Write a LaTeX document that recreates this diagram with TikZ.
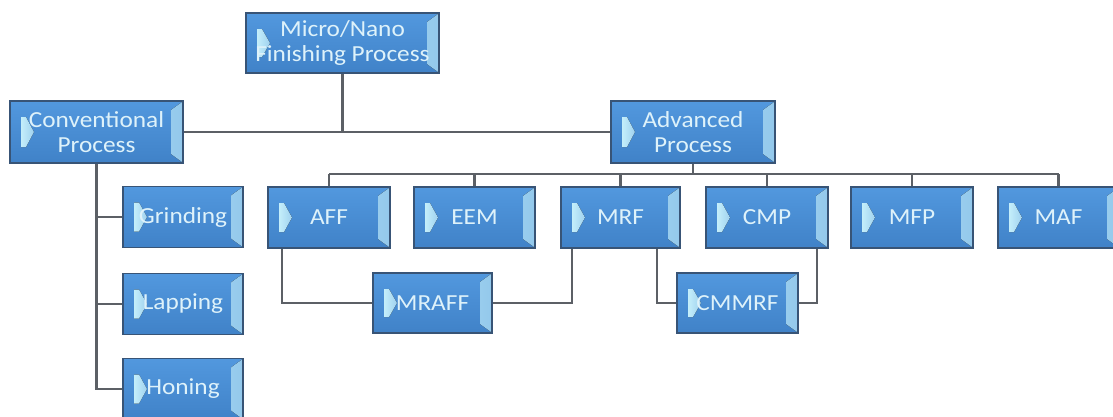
\documentclass[tikz,border=0pt]{standalone}
\usepackage{fontspec}
\setmainfont{Carlito}[FakeStretch=1.1]
\usetikzlibrary{calc}

\definecolor{boxblue}{RGB}{74,144,214}
\definecolor{boxtop}{RGB}{82,152,222}
\definecolor{boxbot}{RGB}{64,130,200}
\definecolor{boxedge}{RGB}{56,84,118}
\definecolor{bevel}{RGB}{196,238,250}
\definecolor{textcyan}{RGB}{222,242,250}
\definecolor{linegray}{RGB}{92,96,102}

\begin{document}
\begin{tikzpicture}[x=1pt,y=-1pt]
        \useasboundingbox (0,0) rectangle (1113,416);
        \tikzstyle{link} = [line width=2.2pt, draw=linegray]
        \tikzstyle{proc} = [draw=boxedge, line width=1.2pt, top color=boxtop, bottom color=boxbot,
            text=textcyan, font=\fontsize{23}{25}\selectfont, align=center, inner sep=2pt,
            minimum height=61pt,
            path picture={
              \fill[left color=bevel, right color=boxblue!40!bevel]
                ([xshift=-12pt,yshift=-9pt]path picture bounding box.north east)
                -- ([xshift=-1pt,yshift=-1pt]path picture bounding box.north east)
                -- ([xshift=-1pt,yshift=1pt]path picture bounding box.south east)
                -- ([xshift=-12pt,yshift=9pt]path picture bounding box.south east) -- cycle;
              \fill[left color=bevel, right color=boxblue!30!bevel]
                ([xshift=11pt,yshift=-16pt]path picture bounding box.north west)
                -- ([xshift=16pt,yshift=-16pt]path picture bounding box.north west)
                -- ([xshift=24pt]path picture bounding box.west)
                -- ([xshift=16pt,yshift=16pt]path picture bounding box.south west)
                -- ([xshift=11pt,yshift=16pt]path picture bounding box.south west) -- cycle;
            }]

        \node[proc, minimum width=193pt, minimum height=60pt](micro) at (342.5,43) {Micro/Nano\\Finishing Process};
        \node[proc, minimum width=173pt, minimum height=62pt](conv) at (96.5,132) {Conventional\\Process};
        \node[proc, minimum width=164pt, minimum height=62pt](adv) at (693,132) {Advanced\\Process};

        \node[proc, minimum width=120pt](grinding) at (183,217) {Grinding};
        \node[proc, minimum width=120pt](lapping) at (183,304) {Lapping};
        \node[proc, minimum width=120pt](honing) at (183,389) {Honing};

        \node[proc, minimum width=122pt](aff) at (329,217.5) {AFF};
        \node[proc, minimum width=121pt](eem) at (474.5,217.5) {EEM};
        \node[proc, minimum width=119pt](mrf) at (620.5,217.5) {MRF};
        \node[proc, minimum width=122pt](cmp) at (767,217.5) {CMP};
        \node[proc, minimum width=122pt](mfp) at (912,217.5) {MFP};
        \node[proc, minimum width=121pt](maf) at (1058.5,217.5) {MAF};

        \node[proc, minimum width=119pt, minimum height=60pt](mraff) at (432.5,303) {MRAFF};
        \node[proc, minimum width=121pt, minimum height=60pt](cmmrf) at (737.5,303) {CMMRF};

        \coordinate (bus) at (0,174);

        \draw[link] (micro.south) -- (micro.south |- conv.east);
        \draw[link] (conv.east) -- (adv.west);
        \draw[link] (adv.south) -- (adv.south |- bus);
        \draw[link] (aff.north |- bus) -- (maf.north |- bus);
        \draw[link] (aff.north) -- (aff.north |- bus);
        \draw[link] (eem.north) -- (eem.north |- bus);
        \draw[link] (mrf.north) -- (mrf.north |- bus);
        \draw[link] (cmp.north) -- (cmp.north |- bus);
        \draw[link] (mfp.north) -- (mfp.north |- bus);
        \draw[link] (maf.north) -- (maf.north |- bus);

        \draw[link] (conv.south) |- (honing.west);
        \draw[link] (conv.south |- grinding.west) -- (grinding.west);
        \draw[link] (conv.south |- lapping.west) -- (lapping.west);

        \draw[link] ([xshift=-47pt]aff.south) |- (mraff.west);
        \draw[link] (mraff.east) -| ([xshift=-48.5pt]mrf.south);
        \draw[link] ([xshift=36.5pt]mrf.south) |- (cmmrf.west);
        \draw[link] (cmmrf.east) -| ([xshift=50pt]cmp.south);
    \end{tikzpicture}
\end{document}
